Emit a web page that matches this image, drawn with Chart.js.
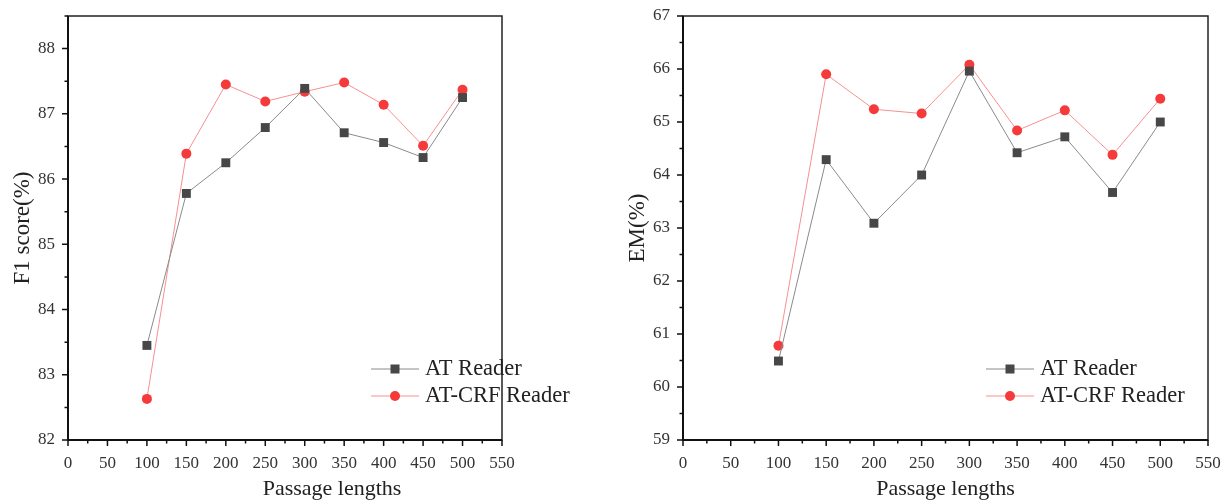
<!DOCTYPE html>
<html>
<head>
<meta charset="utf-8">
<script src="https://cdn.jsdelivr.net/npm/chart.js@4/dist/chart.umd.min.js"></script>
<style>
  body { margin: 0; background: #fff; }
  .box { position: absolute; top: 0; height: 504px; }
  #left { left: 0; width: 615px; }
  #right { left: 615px; width: 616px; }
</style>
</head>
<body>
<div class="box" id="left"><canvas id="f1Chart"></canvas></div>
<div class="box" id="right"><canvas id="emChart"></canvas></div>
<script>
const lengths = [100, 150, 200, 250, 300, 350, 400, 450, 500]
const f1AT = [83.45, 85.78, 86.25, 86.79, 87.39, 86.71, 86.56, 86.33, 87.25]
const f1CRF = [82.63, 86.39, 87.45, 87.19, 87.34, 87.48, 87.14, 86.51, 87.37]
const emAT = [60.49, 64.29, 63.09, 64.0, 65.96, 64.42, 64.72, 63.67, 65.0]
const emCRF = [60.78, 65.9, 65.24, 65.16, 66.08, 64.84, 65.22, 64.38, 65.44]
const seriesNames = ['AT Reader', 'AT-CRF Reader']
const xTitle = 'Passage lengths'

const FONT = '"Liberation Serif", "Times New Roman", serif'

function pts(ys) {
  return lengths.map((x, i) => ({x: x, y: ys[i]}))
}

// frame, minor/major ticks, x title and inside legend
const framePlugin = {
  id: 'frame',
  afterDraw(chart, args, opts) {
    const ctx = chart.ctx
    const a = chart.chartArea
    const xs = chart.scales.x, ys = chart.scales.y
    ctx.save()
    ctx.strokeStyle = '#222'
    ctx.lineWidth = 1.5
    ctx.strokeRect(a.left, a.top, a.right - a.left, a.bottom - a.top)
    ctx.lineWidth = 2
    ctx.strokeStyle = '#111'
    ctx.beginPath()
    ctx.moveTo(a.left, a.top); ctx.lineTo(a.left, a.bottom); ctx.lineTo(a.right, a.bottom)
    ctx.stroke()
    ctx.lineWidth = 1.5
    ctx.beginPath()
    for (let v = xs.min; v <= xs.max + 0.001; v += 25) {
      const px = xs.getPixelForValue(v)
      const len = (v % 50 === 0) ? 6 : 3.5
      ctx.moveTo(px, a.bottom); ctx.lineTo(px, a.bottom + len)
    }
    for (let v = ys.min; v <= ys.max + 0.001; v += 0.5) {
      const py = ys.getPixelForValue(v)
      const len = (Math.abs(v - Math.round(v)) < 0.01) ? 6 : 3.5
      ctx.moveTo(a.left, py); ctx.lineTo(a.left - len, py)
    }
    ctx.stroke()

    // x axis title
    ctx.fillStyle = '#222'
    ctx.font = '22px ' + FONT
    ctx.textAlign = 'center'
    ctx.textBaseline = 'middle'
    ctx.fillText(xTitle, (a.left + a.right) / 2 + (opts.titleShift || 0), 489)

    // legend
    const lx = a.left + 303, ly = a.bottom - 71
    ctx.textAlign = 'left'
    chart.data.datasets.forEach((ds, i) => {
      const y = ly + i * 27
      ctx.strokeStyle = ds.borderColor
      ctx.lineWidth = 1
      ctx.beginPath(); ctx.moveTo(lx, y); ctx.lineTo(lx + 48, y); ctx.stroke()
      ctx.fillStyle = ds.pointBackgroundColor
      if (ds.pointStyle === 'rect') {
        ctx.fillRect(lx + 19.5, y - 4.5, 9, 9)
      } else {
        ctx.beginPath(); ctx.arc(lx + 24, y, 5, 0, Math.PI * 2); ctx.fill()
      }
      ctx.fillStyle = '#222'
      ctx.font = '22.5px ' + FONT
      ctx.fillText(ds.label, lx + 54, y)
    })
    ctx.restore()
  }
}

function makeChart(id, at, crf, yMin, yMax, yTitle, padRight, shift) {
  const el = document.getElementById(id)
  return new Chart(el, {
    type: 'line',
    data: {
      datasets: [{
        label: seriesNames[0],
        data: pts(at),
        borderColor: '#8a8a8a',
        borderWidth: 1,
        pointStyle: 'rect',
        pointRadius: 6.3,
        pointBackgroundColor: '#474747',
        pointBorderColor: '#474747',
        pointBorderWidth: 0,
        tension: 0
      }, {
        label: seriesNames[1],
        data: pts(crf),
        borderColor: '#f79090',
        borderWidth: 1,
        pointStyle: 'circle',
        pointRadius: 5,
        pointBackgroundColor: '#f43a3a',
        pointBorderColor: '#f43a3a',
        pointBorderWidth: 0,
        tension: 0
      }]
    },
    options: {
      responsive: true,
      maintainAspectRatio: false,
      animation: false,
      layout: {padding: {left: 0, top: 16, right: padRight, bottom: 0}},
      plugins: {legend: {display: false}, tooltip: {enabled: false}, frame: {titleShift: shift}},
      scales: {
        x: {
          type: 'linear', min: 0, max: 550,
          afterFit(s) { s.height = 64; s.paddingLeft = 0; s.paddingRight = 0 },
          grid: {display: false, drawTicks: false},
          border: {display: false},
          ticks: {
            stepSize: 50, autoSkip: false, maxRotation: 0, padding: 13,
            color: '#333', font: {family: FONT, size: 17}
          },
          title: {display: false}
        },
        y: {
          min: yMin, max: yMax,
          afterFit(s) { s.width = 68; s.paddingTop = 0; s.paddingBottom = 0 },
          afterBuildTicks(s) {
            const t = []
            for (let v = Math.ceil(yMin); v <= yMax; v++) t.push({value: v})
            s.ticks = t
          },
          grid: {display: false, drawTicks: false},
          border: {display: false},
          ticks: {
            autoSkip: false, padding: 13,
            color: '#333', font: {family: FONT, size: 17}
          },
          title: {display: true, text: yTitle, color: '#222',
            font: {family: FONT, size: 23}, padding: {top: 9, bottom: 0}}
        }
      }
    },
    plugins: [framePlugin]
  })
}

makeChart('f1Chart', f1AT, f1CRF, 82, 88.5, 'F1 score(%)', 113, 47)
makeChart('emChart', emAT, emCRF, 59, 67, 'EM(%)', 23, 0)
</script>
</body>
</html>
